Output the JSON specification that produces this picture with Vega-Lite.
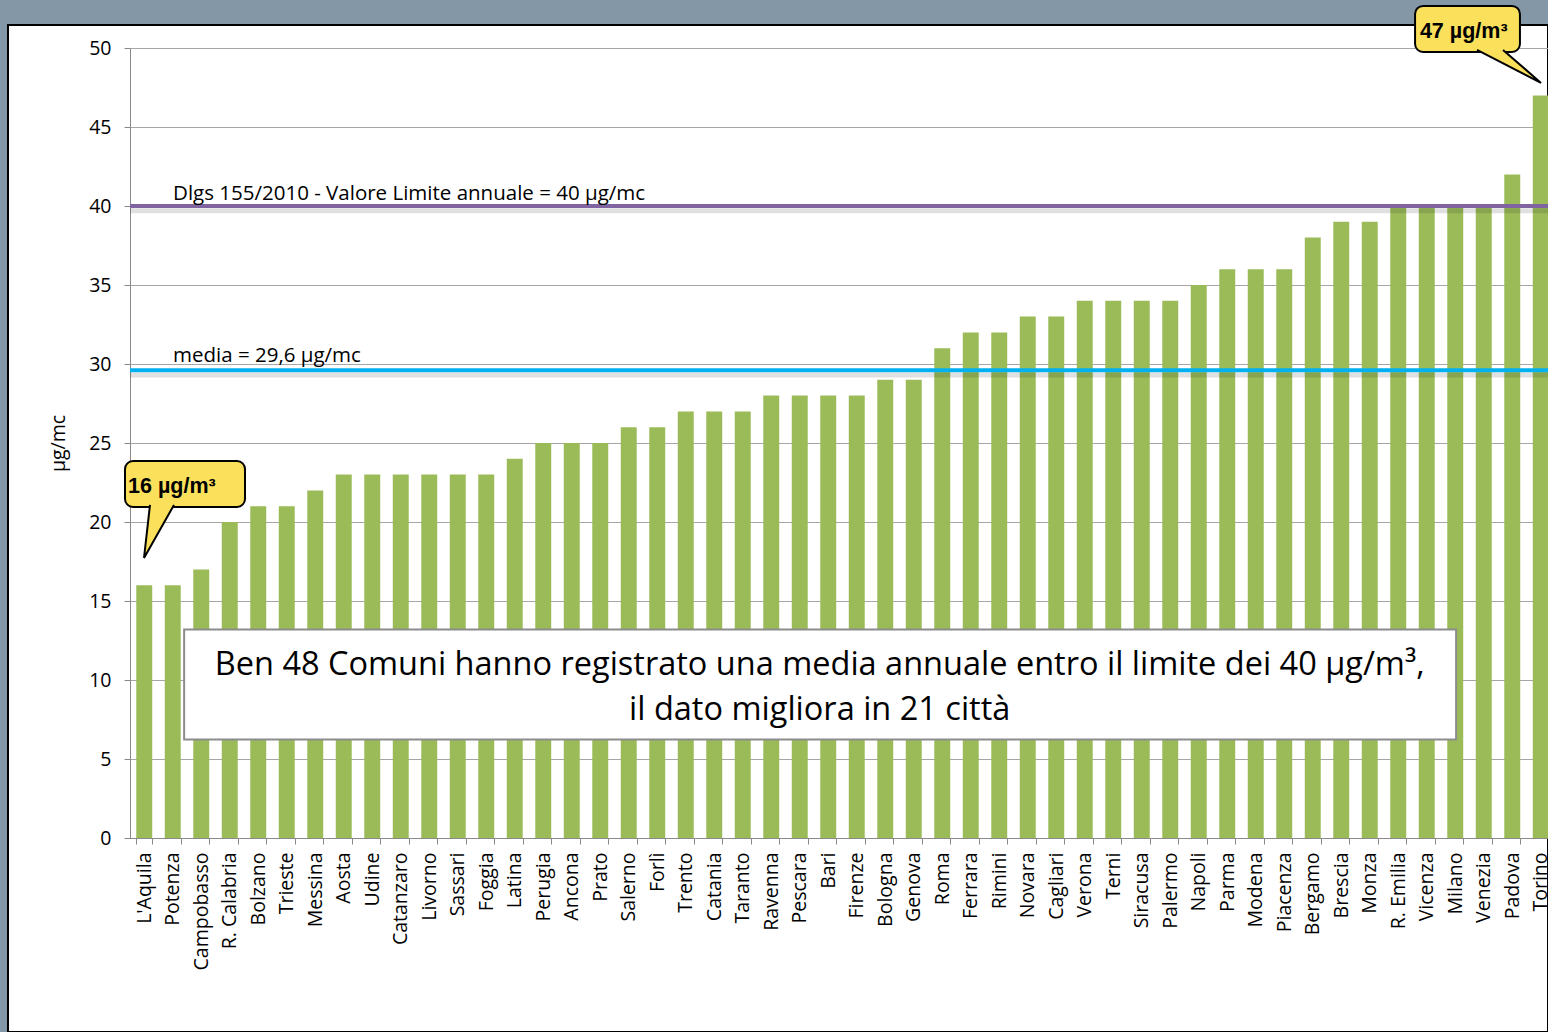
{
  "$schema": "https://vega.github.io/schema/vega-lite/v6.json",
  "width": 1540,
  "height": 1007,
  "autosize": {"type": "none"},
  "padding": {"left": 8, "top": 25, "right": 0, "bottom": 0},
  "background": "#8497a6",
  "config": {
    "view": {"fill": "white", "stroke": "black", "strokeWidth": 2},
    "font": "Open Sans"
  },
  "data": {
    "values": [
      {"city": "L'Aquila", "value": 16},
      {"city": "Potenza", "value": 16},
      {"city": "Campobasso", "value": 17},
      {"city": "R. Calabria", "value": 20},
      {"city": "Bolzano", "value": 21},
      {"city": "Trieste", "value": 21},
      {"city": "Messina", "value": 22},
      {"city": "Aosta", "value": 23},
      {"city": "Udine", "value": 23},
      {"city": "Catanzaro", "value": 23},
      {"city": "Livorno", "value": 23},
      {"city": "Sassari", "value": 23},
      {"city": "Foggia", "value": 23},
      {"city": "Latina", "value": 24},
      {"city": "Perugia", "value": 25},
      {"city": "Ancona", "value": 25},
      {"city": "Prato", "value": 25},
      {"city": "Salerno", "value": 26},
      {"city": "Forlì", "value": 26},
      {"city": "Trento", "value": 27},
      {"city": "Catania", "value": 27},
      {"city": "Taranto", "value": 27},
      {"city": "Ravenna", "value": 28},
      {"city": "Pescara", "value": 28},
      {"city": "Bari", "value": 28},
      {"city": "Firenze", "value": 28},
      {"city": "Bologna", "value": 29},
      {"city": "Genova", "value": 29},
      {"city": "Roma", "value": 31},
      {"city": "Ferrara", "value": 32},
      {"city": "Rimini", "value": 32},
      {"city": "Novara", "value": 33},
      {"city": "Cagliari", "value": 33},
      {"city": "Verona", "value": 34},
      {"city": "Terni", "value": 34},
      {"city": "Siracusa", "value": 34},
      {"city": "Palermo", "value": 34},
      {"city": "Napoli", "value": 35},
      {"city": "Parma", "value": 36},
      {"city": "Modena", "value": 36},
      {"city": "Piacenza", "value": 36},
      {"city": "Bergamo", "value": 38},
      {"city": "Brescia", "value": 39},
      {"city": "Monza", "value": 39},
      {"city": "R. Emilia", "value": 40},
      {"city": "Vicenza", "value": 40},
      {"city": "Milano", "value": 40},
      {"city": "Venezia", "value": 40},
      {"city": "Padova", "value": 42},
      {"city": "Torino", "value": 47}
    ]
  },
  "layer": [
    {
      "mark": {"type": "bar", "color": "#9bbb59"},
      "encoding": {
        "x": {
          "field": "city", "type": "nominal", "sort": null,
          "scale": {"range": [122, 1547], "paddingInner": 0.44, "paddingOuter": 0.22},
          "axis": {
            "title": null, "orient": "bottom", "offset": -194,
            "labelAngle": -90, "labelFontSize": 19.5, "labelColor": "black",
            "labelPadding": 8, "tickSize": 6, "tickBand": "extent",
            "domainColor": "#898989", "tickColor": "#898989",
            "labelOverlap": false, "labelLimit": 0, "grid": false
          }
        },
        "y": {
          "field": "value", "type": "quantitative",
          "scale": {"domain": [0, 50], "range": [813, 23], "nice": false},
          "axis": {
            "title": "µg/mc", "orient": "left", "offset": -122,
            "values": [0, 5, 10, 15, 20, 25, 30, 35, 40, 45, 50],
            "labelFontSize": 19.5, "labelColor": "black", "labelPadding": 13,
            "tickSize": 6, "domainColor": "#898989", "tickColor": "#898989",
            "grid": true, "gridColor": "#a6a6a6", "gridWidth": 1,
            "titleFontSize": 19.5, "titleFontWeight": "normal", "titleColor": "black",
            "titlePadding": 20
          }
        }
      }
    },
    {
      "data": {"values": [{}]},
      "layer": [
        {
          "mark": {"type": "rule", "color": "black", "opacity": 0.12, "strokeWidth": 5},
          "encoding": {
            "x": {"datum": 0, "type": "quantitative", "scale": {"domain": [0, 50], "range": [122, 1547]}, "axis": null},
            "x2": {"datum": 50},
            "y": {"datum": 39.7, "type": "quantitative", "axis": null}
          }
        },
        {
          "mark": {"type": "rule", "color": "#8064a2", "strokeWidth": 4},
          "encoding": {
            "x": {"datum": 0, "type": "quantitative", "scale": {"domain": [0, 50], "range": [122, 1547]}, "axis": null},
            "x2": {"datum": 50},
            "y": {"datum": 40, "type": "quantitative", "axis": null}
          }
        },
        {
          "mark": {"type": "rule", "color": "black", "opacity": 0.12, "strokeWidth": 5},
          "encoding": {
            "x": {"datum": 0, "type": "quantitative", "scale": {"domain": [0, 50], "range": [122, 1547]}, "axis": null},
            "x2": {"datum": 50},
            "y": {"datum": 29.3, "type": "quantitative", "axis": null}
          }
        },
        {
          "mark": {"type": "rule", "color": "#00b0f0", "strokeWidth": 4},
          "encoding": {
            "x": {"datum": 0, "type": "quantitative", "scale": {"domain": [0, 50], "range": [122, 1547]}, "axis": null},
            "x2": {"datum": 50},
            "y": {"datum": 29.6, "type": "quantitative", "axis": null}
          }
        },
        {
          "mark": {"type": "text", "align": "left", "baseline": "alphabetic", "fontSize": 20.5, "color": "black"},
          "encoding": {
            "x": {"datum": 1.51, "type": "quantitative", "scale": {"domain": [0, 50], "range": [122, 1547]}, "axis": null},
            "y": {"datum": 40.38, "type": "quantitative", "axis": null},
            "text": {"value": "Dlgs 155/2010 - Valore Limite annuale = 40 µg/mc"}
          }
        },
        {
          "mark": {"type": "text", "align": "left", "baseline": "alphabetic", "fontSize": 20.5, "color": "black"},
          "encoding": {
            "x": {"datum": 1.51, "type": "quantitative", "scale": {"domain": [0, 50], "range": [122, 1547]}, "axis": null},
            "y": {"datum": 30.13, "type": "quantitative", "axis": null},
            "text": {"value": "media = 29,6 µg/mc"}
          }
        },
        {
          "mark": {"type": "rect", "fill": "white", "stroke": "#8c8c8c", "strokeWidth": 2},
          "encoding": {
            "x": {"datum": 1.9, "type": "quantitative", "scale": {"domain": [0, 50], "range": [122, 1547]}, "axis": null},
            "x2": {"datum": 46.53},
            "y": {"datum": 13.2, "type": "quantitative", "axis": null},
            "y2": {"datum": 6.23}
          }
        },
        {
          "mark": {"type": "text", "align": "center", "baseline": "middle", "fontSize": 32.5, "color": "black", "lineHeight": 45},
          "encoding": {
            "x": {"datum": 24.2, "type": "quantitative", "scale": {"domain": [0, 50], "range": [122, 1547]}, "axis": null},
            "y": {"datum": 10.95, "type": "quantitative", "axis": null},
            "text": {"value": ["Ben 48 Comuni hanno registrato una media annuale entro il limite dei 40 µg/m³,", "il dato migliora in 21 città"]}
          }
        },
        {
          "mark": {"type": "rect", "fill": "#fbe05b", "stroke": "black", "strokeWidth": 2, "cornerRadius": 8},
          "encoding": {
            "x": {"datum": -0.175, "type": "quantitative", "scale": {"domain": [0, 50], "range": [122, 1547]}, "axis": null},
            "x2": {"datum": 4.035},
            "y": {"datum": 23.86, "type": "quantitative", "axis": null},
            "y2": {"datum": 20.95}
          }
        },
        {
          "mark": {"type": "point", "shape": "M0.538,-1.04L-0.615,1L-0.385,-1.04", "size": 2704, "filled": true, "fill": "#fbe05b", "stroke": "black", "strokeWidth": 2, "opacity": 1},
          "encoding": {
            "x": {"datum": 1.053, "type": "quantitative", "scale": {"domain": [0, 50], "range": [122, 1547]}, "axis": null},
            "y": {"datum": 19.37, "type": "quantitative", "axis": null}
          }
        },
        {
          "mark": {"type": "text", "align": "left", "baseline": "alphabetic", "fontSize": 21.5, "fontWeight": "bold", "font": "Liberation Sans", "color": "black"},
          "encoding": {
            "x": {"datum": -0.07, "type": "quantitative", "scale": {"domain": [0, 50], "range": [122, 1547]}, "axis": null},
            "y": {"datum": 21.84, "type": "quantitative", "axis": null},
            "text": {"value": "16 µg/m³"}
          }
        },
        {
          "mark": {"type": "rect", "fill": "#fbe05b", "stroke": "black", "strokeWidth": 2, "cornerRadius": 8},
          "encoding": {
            "x": {"datum": 45.09, "type": "quantitative", "scale": {"domain": [0, 50], "range": [122, 1547]}, "axis": null},
            "x2": {"datum": 48.77},
            "y": {"datum": 52.66, "type": "quantitative", "axis": null},
            "y2": {"datum": 49.75}
          }
        },
        {
          "mark": {"type": "point", "shape": "M-0.1875,-0.55L1,0.484L-1,-0.55", "size": 4096, "filled": true, "fill": "#fbe05b", "stroke": "black", "strokeWidth": 2, "opacity": 1},
          "encoding": {
            "x": {"datum": 48.386, "type": "quantitative", "scale": {"domain": [0, 50], "range": [122, 1547]}, "axis": null},
            "y": {"datum": 48.766, "type": "quantitative", "axis": null}
          }
        },
        {
          "mark": {"type": "text", "align": "left", "baseline": "alphabetic", "fontSize": 21.5, "fontWeight": "bold", "font": "Liberation Sans", "color": "black"},
          "encoding": {
            "x": {"datum": 45.26, "type": "quantitative", "scale": {"domain": [0, 50], "range": [122, 1547]}, "axis": null},
            "y": {"datum": 50.63, "type": "quantitative", "axis": null},
            "text": {"value": "47 µg/m³"}
          }
        }
      ]
    }
  ],
  "resolve": {"scale": {"x": "independent"}, "axis": {"x": "independent", "y": "independent"}}
}
